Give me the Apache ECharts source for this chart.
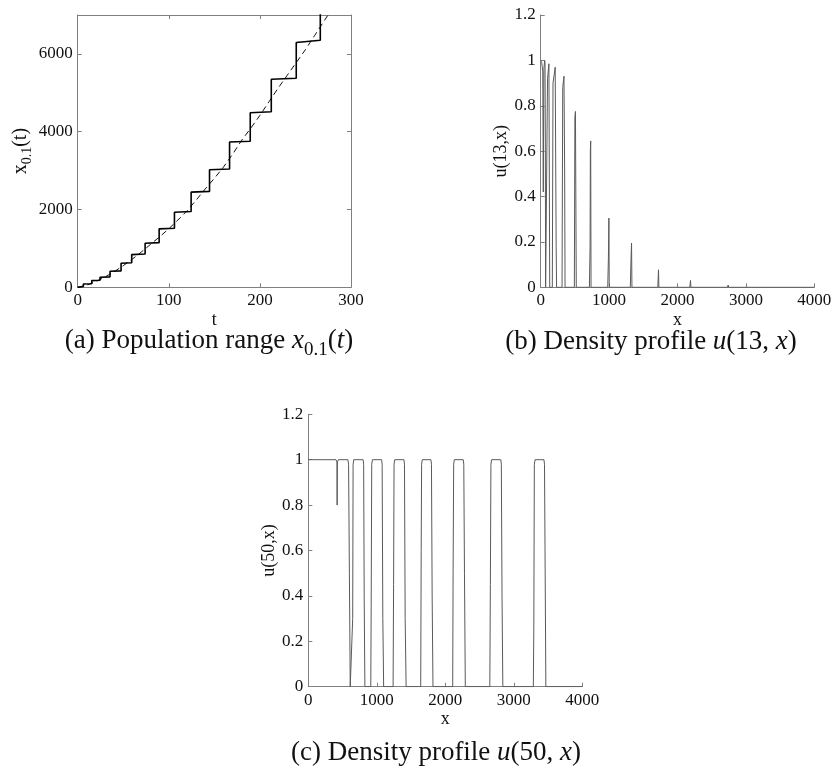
<!DOCTYPE html>
<html>
<head>
<meta charset="utf-8">
<script src="https://cdn.jsdelivr.net/npm/echarts@6/dist/echarts.min.js"></script>
<style>
  html, body { margin: 0; padding: 0; background: #fff; }
  #chart { width: 835px; height: 775px; }
</style>
</head>
<body>
<div id="chart"></div>
<script>
// ---- (a) population range: staircase x_{0.1}(t) and its smooth trend ----
const rangeT = [0, 6.2, 6.2, 15.4, 15.4, 24.5, 24.5, 35.5, 35.5, 47.6, 47.6, 59.3, 59.3,
  74, 74, 89.4, 89.4, 106.2, 106.2, 124.5, 124.5, 144.7, 144.7, 166.7, 166.7,
  189.4, 189.4, 212.5, 212.5, 239.9, 239.9, 266.3, 266.3];
const rangeX = [0, 22, 86, 92, 172, 180, 258, 268, 412, 422, 618, 630, 841, 855,
  1133, 1148, 1502, 1518, 1931, 1948, 2446, 2465, 3022, 3042, 3734, 3755,
  4489, 4512, 5348, 5375, 6292, 6352, 7600];
const trendT = [0, 10, 20, 30, 40, 50, 60, 70, 80, 90, 100, 110, 120, 130, 140,
  150, 160, 170, 180, 190, 200, 210, 220, 230, 240, 250, 260, 270, 276];
const trendX = [0, 55, 150, 265, 400, 555, 725, 910, 1105, 1300, 1505, 1730, 1965,
  2240, 2530, 2800, 3090, 3420, 3780, 4090, 4420, 4770, 5120, 5450, 5780, 6110,
  6470, 6830, 7040];

// ---- (b) density profile u(13,x) ----
const prof13X = [0, 15, 30, 38, 46, 58, 63, 68, 72, 92, 100, 120, 126, 132, 170, 180,
  212, 219, 226, 232, 312, 322, 340, 345, 350, 356, 492, 500, 508, 514, 520,
  712, 722, 726, 731, 736, 980, 990, 997, 1002, 1310, 1320, 1328, 1334,
  1712, 1722, 1728, 2180, 2190, 2196, 2730, 2741, 2748, 3365, 3377, 3385, 4000];
const prof13U = [1.0, 0.99, 0.95, 0.42, 0.96, 1.0, 0.99, 0.64, 0.0, 0.0, 0.92, 0.985,
  0.985, 0.0, 0.0, 0.9, 0.97, 0.97, 0.18, 0.0, 0.0, 0.88, 0.93, 0.93, 0.53, 0.0,
  0.0, 0.75, 0.775, 0.77, 0.0, 0.0, 0.18, 0.6, 0.645, 0.0, 0.0, 0.13, 0.305, 0.0,
  0.0, 0.12, 0.195, 0.0, 0.0, 0.077, 0.0, 0.0, 0.03, 0.0, 0.0, 0.01, 0.0,
  0.0, 0.005, 0.0, 0.0];

// ---- (c) density profile u(50,x) ----
const prof50X = [0, 405, 418, 421, 425, 440, 578, 588, 600, 612, 640, 648, 654, 664,
  800, 808, 816, 826, 912, 918, 926, 936, 1070, 1078, 1088, 1100, 1238, 1245,
  1252, 1262, 1396, 1404, 1414, 1428, 1641, 1648, 1654, 1664, 1790, 1798, 1808,
  1820, 2108, 2114, 2122, 2132, 2262, 2270, 2280, 2292, 2650, 2658, 2666, 2676,
  2810, 2818, 2828, 2840, 3285, 3292, 3300, 3310, 3440, 3448, 3458, 3468, 4000];
const prof50U = [1.0, 1.0, 0.99, 0.80, 0.99, 1.0, 1.0, 0.98, 0.5, 0.0, 0.0, 0.3, 0.98,
  1.0, 1.0, 0.98, 0.4, 0.0, 0.0, 0.35, 0.98, 1.0, 1.0, 0.98, 0.3, 0.0, 0.0, 0.45,
  0.98, 1.0, 1.0, 0.98, 0.3, 0.0, 0.0, 0.6, 0.98, 1.0, 1.0, 0.98, 0.4, 0.0, 0.0,
  0.5, 0.98, 1.0, 1.0, 0.98, 0.5, 0.0, 0.0, 0.45, 0.98, 1.0, 1.0, 0.98, 0.4, 0.0,
  0.0, 0.25, 0.98, 1.0, 1.0, 0.98, 0.5, 0.0, 0.0];

// ---- tick values ----
const tTicks = [0, 100, 200, 300];
const rangeTicks = [0, 2000, 4000, 6000];
const xTicks = [0, 1000, 2000, 3000, 4000];
const uTicks = [0, 0.2, 0.4, 0.6, 0.8, 1, 1.2];

const SERIF = 'Liberation Serif';
const AXIS_GREY = '#808080';
const zip = (xs, ys) => xs.map((v, i) => [v, ys[i]]);

function axis(grid, min, max, ticks, extra) {
  return Object.assign({
    type: 'value', gridIndex: grid, min: min, max: max,
    axisLine: { show: true, onZero: false, lineStyle: { color: AXIS_GREY, width: 1 } },
    axisTick: { show: true, inside: true, length: 4, customValues: ticks,
      lineStyle: { color: AXIS_GREY, width: 1 } },
    axisLabel: { show: true, customValues: ticks, color: '#111',
      fontFamily: SERIF, fontSize: 17, margin: 5,
      formatter: (v) => String(v) },
    splitLine: { show: false },
    nameTextStyle: { color: '#111', fontFamily: SERIF, fontSize: 18 }
  }, extra || {});
}
const hidden = { axisLabel: { show: false } };

const option = {
  animation: false,
  backgroundColor: '#fff',
  grid: [
    { left: 77.7, top: 15, width: 273.3, height: 272.3 },
    { left: 540.7, top: 15, width: 273.6, height: 272.3 },
    { left: 308.3, top: 414.3, width: 274, height: 272.4 }
  ],
  xAxis: [
    axis(0, 0, 300, tTicks, { position: 'bottom', name: 't', nameLocation: 'middle', nameGap: 24 }),
    Object.assign(axis(0, 0, 300, tTicks, { position: 'top' }), hidden),
    axis(1, 0, 4000, xTicks, { position: 'bottom', name: 'x', nameLocation: 'middle', nameGap: 24 }),
    axis(2, 0, 4000, xTicks, { position: 'bottom', name: 'x', nameLocation: 'middle', nameGap: 24 })
  ],
  yAxis: [
    axis(0, 0, 7000, rangeTicks, {
      position: 'left', name: '{v|x}{s|0.1}{v|(t)}', nameLocation: 'middle', nameGap: 45,
      nameRotate: 90,
      nameTextStyle: { color: '#111', fontFamily: SERIF, fontSize: 20,
        rich: {
          v: { fontFamily: SERIF, fontSize: 20, color: '#111', lineHeight: 22, verticalAlign: 'top' },
          s: { fontFamily: SERIF, fontSize: 14, color: '#111', lineHeight: 15, padding: [10, 0, 0, 0], verticalAlign: 'top' }
        } }
    }),
    Object.assign(axis(0, 0, 7000, rangeTicks, { position: 'right' }), hidden),
    axis(1, 0, 1.2, uTicks, { position: 'left', name: 'u(13,x)', nameLocation: 'middle',
      nameGap: 29, nameRotate: 90 }),
    axis(2, 0, 1.2, uTicks, { position: 'left', name: 'u(50,x)', nameLocation: 'middle',
      nameGap: 29, nameRotate: 90 })
  ],
  series: [
    { type: 'line', xAxisIndex: 0, yAxisIndex: 0, data: zip(trendT, trendX),
      showSymbol: false, clip: true,
      lineStyle: { color: '#111', width: 1, type: [6, 4] } },
    { type: 'line', xAxisIndex: 0, yAxisIndex: 0, data: zip(rangeT, rangeX),
      showSymbol: false, clip: true,
      lineStyle: { color: '#000', width: 1.6 } },
    { type: 'line', xAxisIndex: 2, yAxisIndex: 2, data: zip(prof13X, prof13U),
      showSymbol: false, clip: true,
      lineStyle: { color: '#5a5a5a', width: 1 } },
    { type: 'line', xAxisIndex: 3, yAxisIndex: 3, data: zip(prof50X, prof50U),
      showSymbol: false, clip: true,
      lineStyle: { color: '#5a5a5a', width: 1 } }
  ],
  graphic: [
    { type: 'text', x: 209, y: 342, style: {
        text: '{r|(a) Population range }{i|x}{s|0.1}{r|(}{i|t}{r|)}',
        align: 'center', verticalAlign: 'middle',
        rich: {
          r: { fontFamily: SERIF, fontSize: 27, fill: '#111', lineHeight: 29, verticalAlign: 'top' },
          i: { fontFamily: SERIF, fontStyle: 'italic', fontSize: 27, fill: '#111', lineHeight: 29, verticalAlign: 'top' },
          s: { fontFamily: SERIF, fontSize: 19, fill: '#111', lineHeight: 21, padding: [13, 0, 0, 0], verticalAlign: 'top' }
        } } },
    { type: 'text', x: 651, y: 342, style: {
        text: '{r|(b) Density profile }{i|u}{r|(13, }{i|x}{r|)}',
        align: 'center', verticalAlign: 'middle',
        rich: {
          r: { fontFamily: SERIF, fontSize: 27, fill: '#111' },
          i: { fontFamily: SERIF, fontStyle: 'italic', fontSize: 27, fill: '#111' }
        } } },
    { type: 'text', x: 436, y: 753, style: {
        text: '{r|(c) Density profile }{i|u}{r|(50, }{i|x}{r|)}',
        align: 'center', verticalAlign: 'middle',
        rich: {
          r: { fontFamily: SERIF, fontSize: 27, fill: '#111' },
          i: { fontFamily: SERIF, fontStyle: 'italic', fontSize: 27, fill: '#111' }
        } } }
  ]
};

const chart = echarts.init(document.getElementById('chart'), null, { renderer: 'canvas' });
chart.setOption(option);
</script>
</body>
</html>
